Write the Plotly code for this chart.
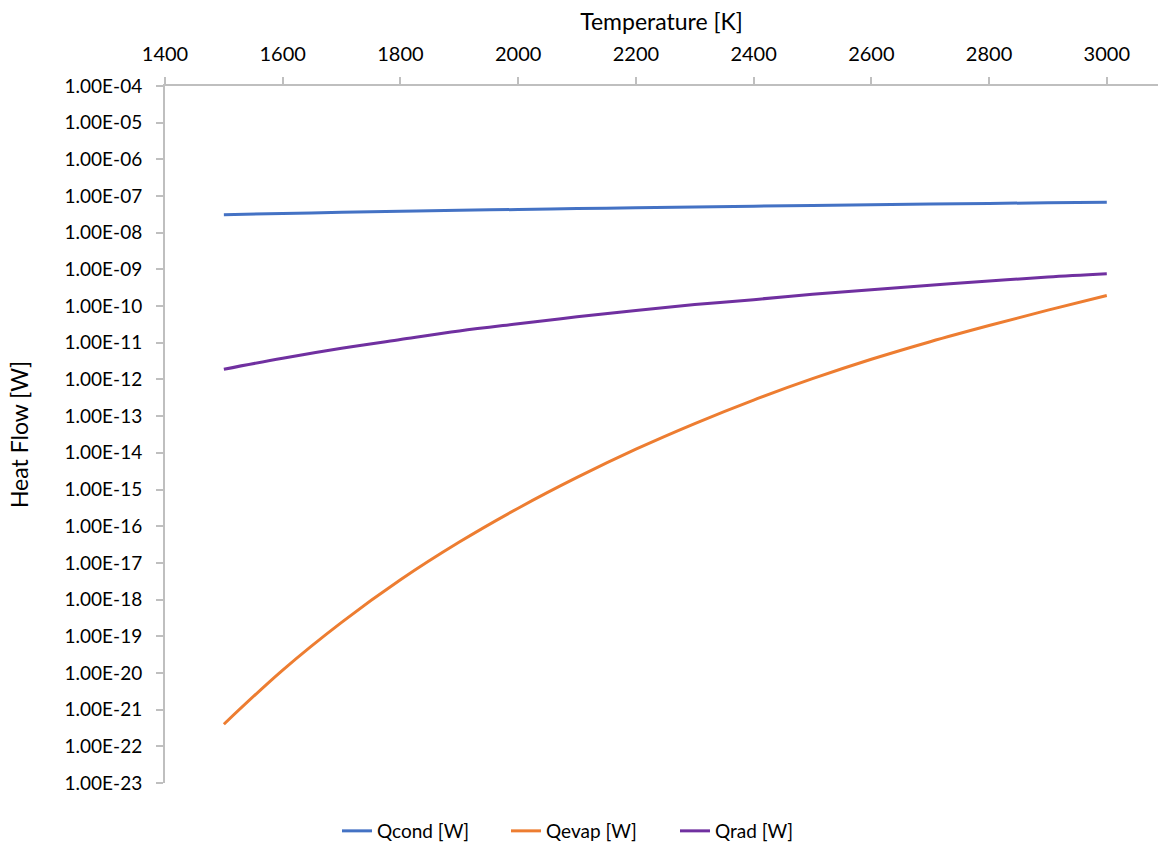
import plotly.graph_objects as go

temperature = [1500, 1600, 1700, 1800, 1900, 2000, 2100, 2200, 2300, 2400, 2500, 2600, 2700, 2800, 2900, 3000]

q_cond = [3.1e-8, 3.35e-8, 3.6e-8, 3.85e-8, 4.1e-8, 4.3e-8, 4.55e-8, 4.8e-8,
          5.05e-8, 5.3e-8, 5.55e-8, 5.8e-8, 6.05e-8, 6.3e-8, 6.55e-8, 6.8e-8]

q_evap = [4.0e-22, 1.2e-20, 2.4e-19, 3.47e-18, 3.7e-17, 3.1e-16, 2.14e-15, 1.26e-14,
          6.3e-14, 2.75e-13, 1.05e-12, 3.55e-12, 1.07e-11, 2.95e-11, 7.76e-11, 1.95e-10]

q_rad = [1.9e-12, 3.8e-12, 7.1e-12, 1.23e-11, 2.1e-11, 3.3e-11, 5.1e-11, 7.6e-11,
         1.1e-10, 1.5e-10, 2.1e-10, 2.8e-10, 3.7e-10, 4.8e-10, 6.2e-10, 7.6e-10]

series_names = ["Qcond [W]", "Qevap [W]", "Qrad [W]"]
series_colors = ["#4472C4", "#ED7D31", "#7030A0"]

y_exponents = list(range(-4, -24, -1))
y_tickvals = [10.0 ** e for e in y_exponents]
y_ticktext = ["1.00E-%02d" % (-e) for e in y_exponents]

x_ticks = [1400, 1600, 1800, 2000, 2200, 2400, 2600, 2800, 3000]

FONT = "Lato, Open Sans, sans-serif"
GRID = "#BFBFBF"

fig = go.Figure()
for name, vals, col in zip(series_names, [q_cond, q_evap, q_rad], series_colors):
    fig.add_trace(go.Scatter(
        x=temperature, y=vals, mode="lines", name=name,
        line=dict(color=col, width=3, shape="spline", smoothing=1.0),
    ))

fig.update_layout(
    width=1158, height=850,
    margin=dict(l=165, r=0, t=86, b=67),
    paper_bgcolor="white", plot_bgcolor="white",
    font=dict(family=FONT, size=20, color="#000000"),
    showlegend=True,
    legend=dict(
        orientation="h", xref="container", yref="container",
        x=0.291, xanchor="left", y=0.0, yanchor="bottom",
        font=dict(family=FONT, size=19, color="#000000"),
        entrywidth=124, entrywidthmode="pixels", tracegroupgap=0,
    ),
)

fig.update_xaxes(
    side="top", range=[1400, 3087], tickvals=x_ticks,
    showline=True, linecolor=GRID, linewidth=2,
    ticks="outside", ticklen=7, tickwidth=2, tickcolor=GRID,
    showgrid=False, zeroline=False,
    tickfont=dict(family=FONT, size=20, color="#000000"),
    ticklabelstandoff=8,
    title=dict(text="Temperature [K]", font=dict(family=FONT, size=23, color="#000000"), standoff=4),
)

fig.update_yaxes(
    type="log", range=[-23, -4],
    tickvals=y_tickvals, ticktext=y_ticktext,
    showline=True, linecolor=GRID, linewidth=2,
    ticks="outside", ticklen=7, tickwidth=2, tickcolor=GRID,
    showgrid=False, zeroline=False,
    tickfont=dict(family=FONT, size=19, color="#000000"),
    ticklabelstandoff=10,
    title=dict(text="Heat Flow [W]", font=dict(family=FONT, size=23, color="#000000"), standoff=30),
)

fig.write_html("out.html")
